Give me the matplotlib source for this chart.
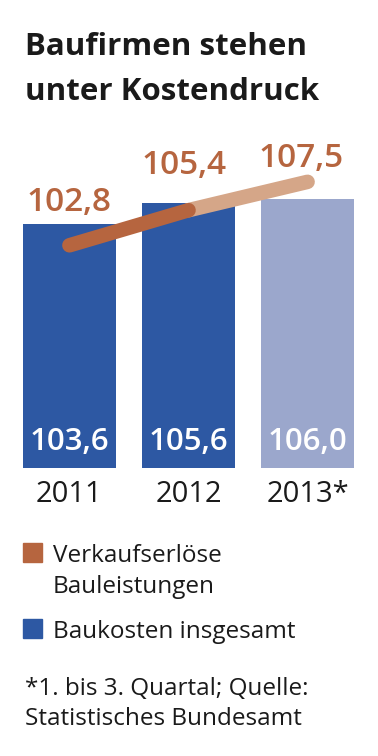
import matplotlib.pyplot as plt
from matplotlib.patches import Rectangle

years = ["2011", "2012", "2013*"]
baukosten = [103.6, 105.6, 106.0]
verkauf = [102.8, 105.4, 107.5]
bar_labels = ["103,6", "105,6", "106,0"]
line_labels = ["102,8", "105,4", "107,5"]

blue = "#2d58a3"
blue_light = "#9ba7cc"
orange = "#b6653f"
orange_light = "#d5a688"

plt.rcParams['font.family'] = ['Open Sans', 'DejaVu Sans']

fig = plt.figure(figsize=(3.78, 7.56), dpi=100)
H = 756.0
ax = fig.add_axes([23 / 378, 1 - 468 / H, 331 / 378, 328 / H])
ax.set_xlim(-0.39, 2.39)
ax.set_ylim(80.4, 111.6)
ax.axis("off")

x = list(range(len(years)))
ax.bar(x, baukosten, width=0.78, color=[blue, blue, blue_light])

for i, lab in enumerate(bar_labels):
    ax.annotate(lab, (i, 80.4), xytext=(0, 19), textcoords="offset points",
                ha="center", va="center", color="white", fontsize=22.5, fontweight="semibold")
    ax.annotate(years[i], (i, 80.4), xytext=(0, -19), textcoords="offset points",
                ha="center", va="center", color="#1a1a1a", fontsize=21)

ax2 = ax.twinx()
ax2.set_ylim(86.3, 110.6)
ax2.axis("off")
ax2.plot(x[1:], verkauf[1:], color=orange_light, lw=10.5, solid_capstyle="round")
ax2.plot(x[:2], verkauf[:2], color=orange, lw=10.5, solid_capstyle="round")

offsets = [(0, 31), (-3, 32), (-5, 17)]
for i, lab in enumerate(line_labels):
    ax2.annotate(lab, (x[i], verkauf[i]), xytext=offsets[i], textcoords="offset points",
                 ha="center", va="center", color=orange, fontsize=24, fontweight="semibold")

fig.text(25 / 378, 1 - 55 / H, "Baufirmen stehen", fontsize=22.5, fontweight="bold",
         va="baseline", color="#1a1a1a")
fig.text(25 / 378, 1 - 100 / H, "unter Kostendruck", fontsize=22.5, fontweight="bold",
         va="baseline", color="#1a1a1a")

fig.add_artist(Rectangle((23 / 378, 1 - 562 / H), 19 / 378, 19 / H, color=orange,
                         transform=fig.transFigure))
fig.add_artist(Rectangle((23 / 378, 1 - 638 / H), 19 / 378, 19 / H, color=blue,
                         transform=fig.transFigure))
fs = 17.5
fig.text(53 / 378, 1 - 562 / H, "Verkaufserlöse", fontsize=fs, va="baseline", color="#1a1a1a")
fig.text(53 / 378, 1 - 593 / H, "Bauleistungen", fontsize=fs, va="baseline", color="#1a1a1a")
fig.text(53 / 378, 1 - 638 / H, "Baukosten insgesamt", fontsize=fs, va="baseline", color="#1a1a1a")
fig.text(25 / 378, 1 - 695 / H, "*1. bis 3. Quartal; Quelle:", fontsize=fs, va="baseline", color="#1a1a1a")
fig.text(25 / 378, 1 - 725 / H, "Statistisches Bundesamt", fontsize=fs, va="baseline", color="#1a1a1a")

fig.savefig("out.png", dpi=100)
